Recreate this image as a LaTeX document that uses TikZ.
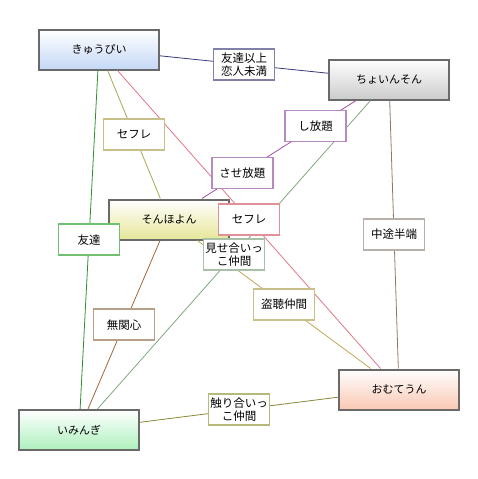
\documentclass[tikz,border=0pt]{standalone}
\usepackage{fontspec}
\setmainfont{Noto Sans CJK JP}
\definecolor{boxgray}{HTML}{6A6A6A}
\definecolor{blueF}{HTML}{C4D8F6}
\definecolor{grayF}{HTML}{CCCCCC}
\definecolor{yellowF}{HTML}{E6E69A}
\definecolor{salmonF}{HTML}{FAC8B4}
\definecolor{greenF}{HTML}{ACF0BC}
\definecolor{navyL}{HTML}{3A3A78}\definecolor{navyB}{HTML}{8080A8}
\definecolor{purpleL}{HTML}{A050A0}\definecolor{purpleB}{HTML}{B888C0}
\definecolor{oliveL}{HTML}{A8A850}\definecolor{oliveB}{HTML}{C8C088}
\definecolor{pinkL}{HTML}{E07888}\definecolor{pinkB}{HTML}{E09098}
\definecolor{greenL}{HTML}{309030}\definecolor{greenB}{HTML}{70C070}
\definecolor{brownL}{HTML}{A06838}\definecolor{brownB}{HTML}{B8A088}
\definecolor{sageL}{HTML}{80A880}\definecolor{sageB}{HTML}{A8C0A8}
\definecolor{khakiL}{HTML}{C0A858}\definecolor{khakiB}{HTML}{C8C088}
\definecolor{taupeL}{HTML}{907868}\definecolor{taupeB}{HTML}{B8B0A8}
\definecolor{mossL}{HTML}{888838}\definecolor{mossB}{HTML}{B8B878}
\begin{document}
\begin{tikzpicture}[x=1pt,y=-1pt,
  box/.style={draw=boxgray, line width=2pt, minimum width=120pt, minimum height=40pt,
    top color=white, inner sep=0pt, font=\fontsize{11}{12}\selectfont},
  lbl/.style={draw, fill=white, line width=1.7pt, minimum width=61pt, minimum height=31pt,
    inner sep=1pt, align=center, font=\fontsize{11.5}{12.5}\selectfont},
  conn/.style={line width=0.8pt}]
\useasboundingbox (0,0) rectangle (478,479);
\fill[white] (0,0) rectangle (478,479);
% main nodes
\node[box, bottom color=blueF] (kyu) at (99,49.5) {きゅうぴい};
\node[box, bottom color=grayF] (choi) at (389,79.5) {ちょいんそん};
\node[box, bottom color=yellowF] (son) at (169,219.5) {そんほよん};
\node[box, bottom color=salmonF] (omu) at (399,389.5) {おむてうん};
\node[box, bottom color=greenF] (imi) at (79,430) {いみんぎ};
% connectors
\draw[conn, navyL] (kyu) -- (choi);
\draw[conn, purpleL] (choi) -- (son);
\draw[conn, oliveL] (kyu) -- (son);
\draw[conn, pinkL] (kyu) -- (omu);
\draw[conn, greenL] (kyu) -- (imi);
\draw[conn, brownL] (son) -- (imi);
\draw[conn, sageL] (choi) -- (imi);
\draw[conn, khakiL] (son) -- (omu);
\draw[conn, taupeL] (choi) -- (omu);
\draw[conn, mossL] (imi) -- (omu);
% labels
\path (kyu.center) -- node[lbl, draw=navyB] (l1) {友達以上\\恋人未満} (choi.center);
\path (choi.center) -- node[lbl, draw=purpleB, pos=0.333] (l2) {し放題} (son.center);
\path (choi.center) -- node[lbl, draw=purpleB, pos=0.667] (l3) {させ放題} (son.center);
\path (kyu.center) -- node[lbl, draw=oliveB] (l4) {セフレ} (son.center);
\path (kyu.center) -- node[lbl, draw=pinkB] (l5) {セフレ} (omu.center);
\path (kyu.center) -- node[lbl, draw=greenB] (l6) {友達} (imi.center);
\path (son.center) -- node[lbl, draw=brownB] (l7) {無関心} (imi.center);
\path (choi.center) -- node[lbl, draw=sageB] (l8) {見せ合いっ\\こ仲間} (imi.center);
\path (son.center) -- node[lbl, draw=khakiB] (l9) {盗聴仲間} (omu.center);
\path (choi.center) -- node[lbl, draw=taupeB] (l10) {中途半端} (omu.center);
\path (imi.center) -- node[lbl, draw=mossB] (l11) {触り合いっ\\こ仲間} (omu.center);
\end{tikzpicture}
\end{document}
